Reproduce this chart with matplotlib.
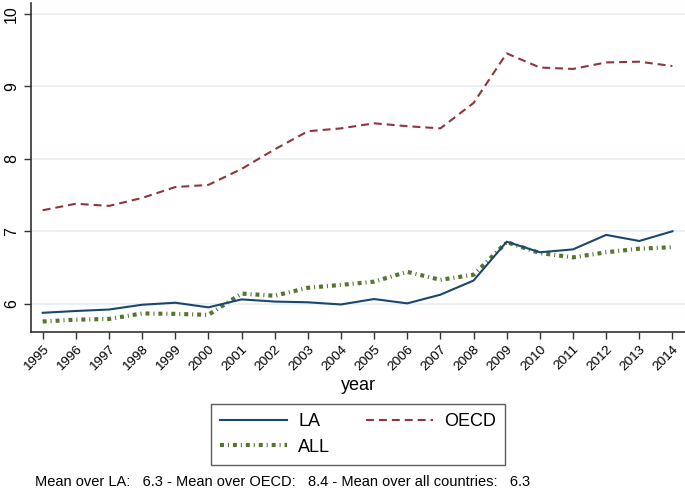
import matplotlib
matplotlib.use("Agg")
import matplotlib.pyplot as plt

plt.rcParams['font.family'] = ['Liberation Sans', 'DejaVu Sans']

years = list(range(1995, 2015))
la = [5.875, 5.90, 5.92, 5.986, 6.014, 5.95, 6.06, 6.03, 6.02, 5.99,
      6.065, 6.005, 6.125, 6.32, 6.856, 6.71, 6.75, 6.95, 6.866, 7.0]
oecd = [7.29, 7.38, 7.35, 7.46, 7.61, 7.64, 7.86, 8.13, 8.38, 8.42,
        8.49, 8.45, 8.42, 8.77, 9.455, 9.26, 9.24, 9.33, 9.34, 9.28]
all_c = [5.755, 5.78, 5.79, 5.866, 5.86, 5.847, 6.14, 6.11, 6.22, 6.26,
         6.305, 6.44, 6.33, 6.40, 6.85, 6.70, 6.64, 6.71, 6.76, 6.78]
yticks = [6, 7, 8, 9, 10]
footer = "Mean over LA:   6.3 - Mean over OECD:   8.4 - Mean over all countries:   6.3"

c_la = (26/255, 71/255, 111/255)
c_oecd = (144/255, 53/255, 59/255)
c_all = (85/255, 117/255, 47/255)

W, H = 685, 490
fig = plt.figure(figsize=(W/100, H/100), dpi=100)
ax = fig.add_axes([31.4/W, 1 - 332/H, (685-31.4)/W, (332-3)/H])

for y in yticks:
    ax.axhline(y, color='#e6eef3', lw=1.2, zorder=0)

l1, = ax.plot(years, la, color=c_la, lw=1.5, label='LA', zorder=3)
l2, = ax.plot(years, oecd, color=c_oecd, lw=1.5, dashes=(3.8, 2.4), label='OECD', zorder=3)
l3, = ax.plot(years, all_c, color=c_all, lw=3.0, dashes=(0.95, 0.95, 0.25, 0.95), label='ALL', zorder=2)

ax.set_xlim(1994.66, 2014.38)
ax.set_ylim(5.61, 10.15)
ax.set_xticks(years)
ax.set_xticklabels([str(y) for y in years], rotation=45, ha='right', rotation_mode='anchor', fontsize=9.7)
ax.set_yticks(yticks)
ax.set_yticklabels([str(y) for y in yticks], rotation=90, va='center', fontsize=11.5)
ax.tick_params(axis='both', length=5, width=1, color='#333333')
ax.tick_params(axis='x', pad=3)
ax.tick_params(axis='y', pad=4)
for s in ['top', 'right']:
    ax.spines[s].set_visible(False)
for s in ['left', 'bottom']:
    ax.spines[s].set_color('#333333')
    ax.spines[s].set_linewidth(1.2)

fig.text(358/W, 1 - 385/H, 'year', ha='center', va='center', fontsize=13)

leg = fig.legend(handles=[l1, l3, l2], labels=['LA', 'ALL', 'OECD'], ncol=2,
                 loc='center', bbox_to_anchor=(358/W, 1 - 434.5/H),
                 fontsize=13, frameon=True, fancybox=False, edgecolor='#333333',
                 handlelength=3.7, columnspacing=2.0, borderpad=0.5,
                 labelspacing=0.45, handletextpad=0.6, borderaxespad=0)
leg.get_frame().set_linewidth(1.0)

fig.text(35/W, 1 - 482/H, footer, ha='left', va='center', fontsize=10.5)

fig.savefig('out.png', dpi=100)
